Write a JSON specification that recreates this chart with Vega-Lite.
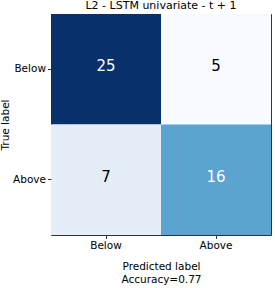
{
  "$schema": "https://vega.github.io/schema/vega-lite/v6.json",
  "autosize": "none",
  "padding": {"left": 51, "top": 14, "right": 4, "bottom": 53},
  "width": 220,
  "height": 221,
  "background": "white",
  "config": {
    "font": "DejaVu Sans",
    "view": {"stroke": "#333333", "strokeWidth": 1}
  },
  "title": {
    "text": "L2 - LSTM univariate - t + 1",
    "fontSize": 11,
    "fontWeight": "normal",
    "color": "black",
    "offset": 3,
    "anchor": "middle"
  },
  "data": {
    "values": [
      {"true": "Below", "pred": "Below", "count": 25},
      {"true": "Below", "pred": "Above", "count": 5},
      {"true": "Above", "pred": "Below", "count": 7},
      {"true": "Above", "pred": "Above", "count": 16}
    ]
  },
  "encoding": {
    "x": {
      "field": "pred", "type": "nominal", "sort": ["Below", "Above"],
      "scale": {"paddingInner": 0, "paddingOuter": 0},
      "axis": {
        "title": ["Predicted label", "Accuracy=0.77"],
        "titleFontSize": 10.5, "titleFontWeight": "normal", "titleColor": "black",
        "titlePadding": 10, "titleLineHeight": 13,
        "labelFontSize": 10.5, "labelColor": "black", "labelAngle": 0, "labelPadding": 2,
        "tickSize": 3.5, "tickColor": "#333333", "domain": false, "grid": false
      }
    },
    "y": {
      "field": "true", "type": "nominal", "sort": ["Below", "Above"],
      "scale": {"paddingInner": 0, "paddingOuter": 0},
      "axis": {
        "title": "True label",
        "titleFontSize": 10.5, "titleFontWeight": "normal", "titleColor": "black",
        "titlePadding": 2,
        "labelFontSize": 10.5, "labelColor": "black", "labelPadding": 2,
        "tickSize": 3.5, "tickColor": "#333333", "domain": false, "grid": false
      }
    }
  },
  "layer": [
    {
      "mark": {"type": "rect"},
      "encoding": {
        "fill": {
          "field": "count", "type": "quantitative",
          "scale": {
            "domain": [5, 7.5, 10, 12.5, 15, 17.5, 20, 22.5, 25],
            "range": ["#f7fbff", "#deebf7", "#c6dbef", "#9ecae1", "#6baed6", "#4292c6", "#2171b5", "#08519c", "#08306b"],
            "interpolate": "rgb"
          },
          "legend": null
        }
      }
    },
    {
      "mark": {"type": "text", "fontSize": 15, "baseline": "middle", "dy": -3},
      "encoding": {
        "text": {"field": "count", "type": "quantitative"},
        "color": {
          "condition": {"test": "datum.count > 12.5", "value": "white"},
          "value": "black"
        }
      }
    }
  ]
}
